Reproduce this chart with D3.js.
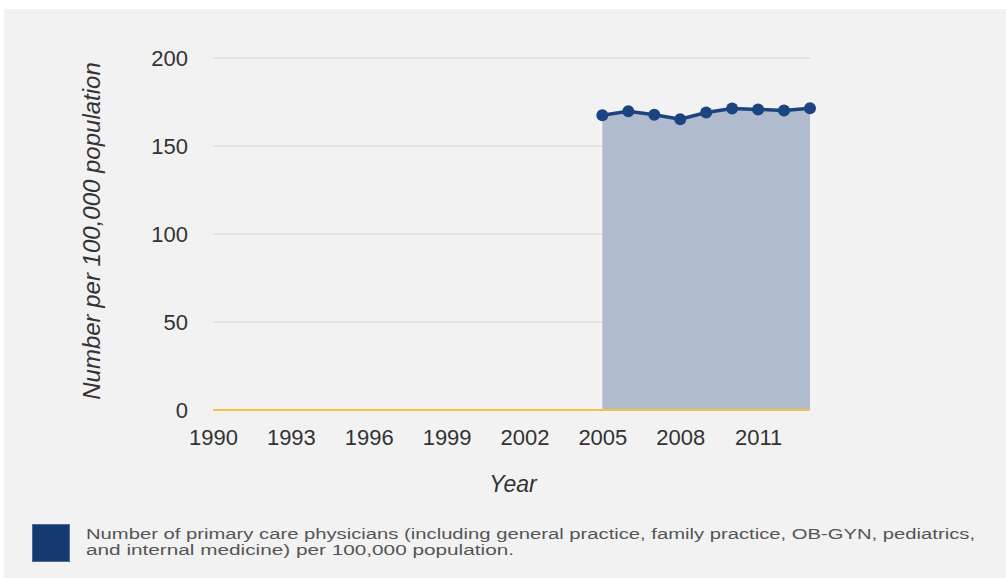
<!DOCTYPE html>
<html>
<head>
<meta charset="utf-8">
<script src="https://cdn.jsdelivr.net/npm/d3@7"></script>
<style>
  body { margin: 0; background: #fff; }
  text { font-family: "Liberation Sans", Arial, sans-serif; }
</style>
</head>
<body>
<div id="chart"></div>
<script>
let width = 1006, height = 578;
let margin = {left: 213, right: 196, top: 58, bottom: 168};

let years = [2005, 2006, 2007, 2008, 2009, 2010, 2011, 2012, 2013];
let values = [167.5, 169.8, 167.8, 165.2, 169.0, 171.3, 170.8, 170.2, 171.5];
let yTicks = [0, 50, 100, 150, 200];
let xTicks = [1990, 1993, 1996, 1999, 2002, 2005, 2008, 2011];
let legendLines = [
    "Number of primary care physicians (including general practice, family practice, OB-GYN, pediatrics,",
    "and internal medicine) per 100,000 population."
];
let legendWidths = [889, 428];

let data = years.map((y, i) => ({year: y, value: values[i]}));

let svg = d3.select("#chart")
    .append("svg")
    .attr("width", width)
    .attr("height", height);

svg.append("rect")
    .attr("x", 4).attr("y", 9)
    .attr("width", width - 4).attr("height", height - 9)
    .attr("fill", "#f2f2f2");

let g = svg.append("g")
    .attr("transform", `translate(${margin.left}, ${margin.top})`);

let innerW = width - margin.left - margin.right;
let innerH = height - margin.top - margin.bottom;

let x = d3.scaleLinear().domain([1990, 2013]).range([0, innerW]);
let y = d3.scaleLinear().domain([0, 200]).range([innerH, 0]);

// gridlines
g.append("g")
    .selectAll("line")
    .data(yTicks.filter(d => d > 0))
    .enter()
    .append("line")
    .attr("x1", 0).attr("x2", innerW)
    .attr("y1", d => y(d)).attr("y2", d => y(d))
    .attr("stroke", "#d4d4d4")
    .attr("stroke-width", 1);

// area
g.append("path")
    .datum(data)
    .attr("fill", "#b0bccd")
    .attr("d", d3.area().x(d => x(d.year)).y0(y(0)).y1(d => y(d.value)));

// zero line
g.append("line")
    .attr("x1", 0).attr("x2", innerW)
    .attr("y1", y(0)).attr("y2", y(0))
    .attr("stroke", "#f5c445")
    .attr("stroke-width", 2);

// line
g.append("path")
    .datum(data)
    .attr("fill", "none")
    .attr("stroke", "#1c4480")
    .attr("stroke-width", 3.5)
    .attr("d", d3.line().x(d => x(d.year)).y(d => y(d.value)));

g.selectAll("circle")
    .data(data)
    .enter()
    .append("circle")
    .attr("cx", d => x(d.year))
    .attr("cy", d => y(d.value))
    .attr("r", 6)
    .attr("fill", "#1c4480");

// axes
let yAxis = g.append("g")
    .call(d3.axisLeft(y).tickValues(yTicks).tickSize(0).tickPadding(25));
yAxis.select(".domain").remove();
yAxis.selectAll("text")
    .style("font-size", "22px")
    .style("font-family", "Liberation Sans, Arial, sans-serif")
    .attr("fill", "#333");

let xAxis = g.append("g")
    .attr("transform", `translate(0, ${innerH})`)
    .call(d3.axisBottom(x).tickValues(xTicks).tickFormat(d3.format("d")).tickSize(0).tickPadding(19));
xAxis.select(".domain").remove();
xAxis.selectAll("text")
    .style("font-size", "22px")
    .style("font-family", "Liberation Sans, Arial, sans-serif")
    .attr("fill", "#333");

// axis titles
svg.append("text")
    .attr("transform", `translate(100, 231) rotate(-90)`)
    .style("text-anchor", "middle")
    .style("font-size", "24px")
    .style("font-style", "italic")
    .attr("fill", "#333")
    .text("Number per 100,000 population");

svg.append("text")
    .attr("x", 513).attr("y", 492)
    .style("text-anchor", "middle")
    .style("font-size", "23px")
    .style("font-style", "italic")
    .attr("fill", "#333")
    .text("Year");

// legend
svg.append("rect")
    .attr("x", 32.5).attr("y", 524.5)
    .attr("width", 37).attr("height", 37)
    .attr("fill", "#173a72")
    .attr("stroke", "#4b6a9a")
    .attr("stroke-width", 1);

svg.append("g")
    .selectAll("text")
    .data(legendLines)
    .enter()
    .append("text")
    .attr("x", 86)
    .attr("y", (d, i) => 539 + i * 16)
    .attr("textLength", (d, i) => legendWidths[i])
    .attr("lengthAdjust", "spacingAndGlyphs")
    .style("font-size", "14px")
    .attr("fill", "#555")
    .text(d => d);
</script>
</body>
</html>
